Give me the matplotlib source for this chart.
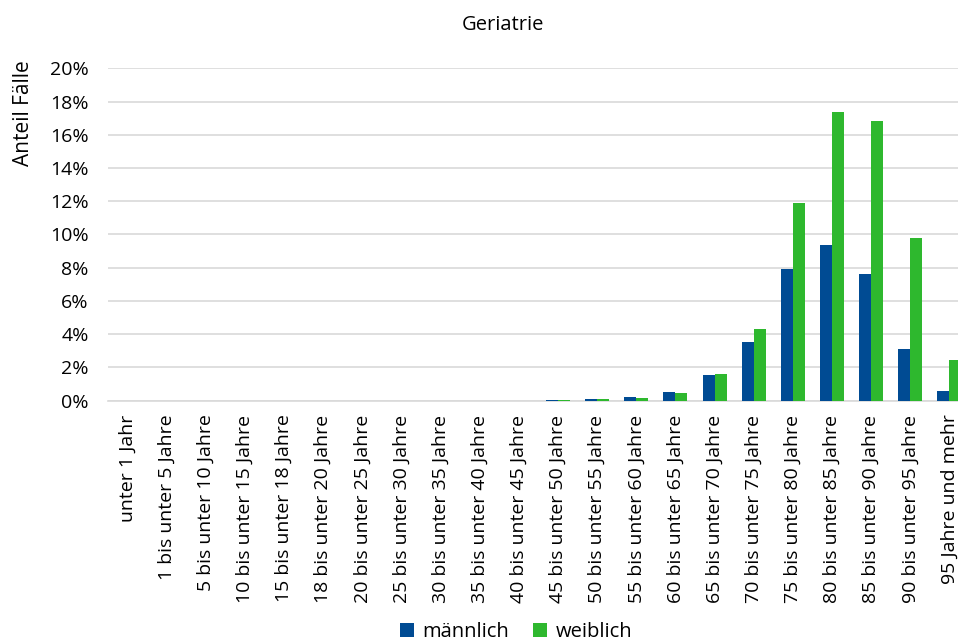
import numpy as np
import matplotlib
matplotlib.use("Agg")
import matplotlib.pyplot as plt
from matplotlib.ticker import FuncFormatter

plt.rcParams['font.family'] = ['Open Sans', 'DejaVu Sans']

categories = [
    "unter 1 Jahr", "1 bis unter 5 Jahre", "5 bis unter 10 Jahre",
    "10 bis unter 15 Jahre", "15 bis unter 18 Jahre", "18 bis unter 20 Jahre",
    "20 bis unter 25 Jahre", "25 bis unter 30 Jahre", "30 bis unter 35 Jahre",
    "35 bis unter 40 Jahre", "40 bis unter 45 Jahre", "45 bis unter 50 Jahre",
    "50 bis unter 55 Jahre", "55 bis unter 60 Jahre", "60 bis unter 65 Jahre",
    "65 bis unter 70 Jahre", "70 bis unter 75 Jahre", "75 bis unter 80 Jahre",
    "80 bis unter 85 Jahre", "85 bis unter 90 Jahre", "90 bis unter 95 Jahre",
    "95 Jahre und mehr",
]
maennlich = [0, 0, 0, 0, 0, 0, 0, 0, 0, 0, 0.0, 0.05, 0.10, 0.20, 0.50,
             1.55, 3.51, 7.92, 9.37, 7.62, 3.13, 0.57]
weiblich = [0, 0, 0, 0, 0, 0, 0, 0, 0, 0, 0.0, 0.04, 0.08, 0.14, 0.46,
            1.62, 4.30, 11.90, 17.39, 16.83, 9.81, 2.43]

blue = "#004b93"
green = "#2eb82e"

fig = plt.figure(figsize=(9.58, 6.41), dpi=100)
W, H = 958, 641
left, right = 108, 969
bottom, top = 400.7, 68.3
ax = fig.add_axes([left / W, 1 - bottom / H, (right - left) / W, (bottom - top) / H])

x = np.arange(len(categories))
bw = 0.307
ax.bar(x - bw / 2, maennlich, width=bw, color=blue, label="männlich", zorder=3)
ax.bar(x + bw / 2, weiblich, width=bw, color=green, label="weiblich", zorder=3)

ax.set_xlim(-0.5, len(categories) - 0.5)
ax.set_ylim(0, 20)
ax.set_yticks(np.arange(0, 21, 2))
ax.yaxis.set_major_formatter(FuncFormatter(lambda v, p: f"{v:.0f}%"))
ax.grid(axis="y", color="#d9d9d9", linewidth=1.2, zorder=0)
ax.set_axisbelow(True)

for s in ["top", "right", "left"]:
    ax.spines[s].set_visible(False)
ax.spines["bottom"].set_color("#d9d9d9")
ax.spines["bottom"].set_linewidth(1.2)

ax.set_xticks(x)
ax.set_xticklabels(categories, rotation=90, ha="center", va="top", fontsize=14, color="#000000")
ax.tick_params(axis="x", length=0, pad=10)
ax.tick_params(axis="y", length=0, pad=14, labelsize=14, labelcolor="#000000")

fig.text(503 / W, 1 - 25 / H, "Geriatrie", ha="center", va="center", fontsize=14.5)
fig.text(24 / W, 1 - 113 / H, "Anteil Fälle", rotation=90, ha="center", va="center", fontsize=15)

fig.legend(loc="center", bbox_to_anchor=(516 / W, 1 - 632 / H), ncol=2, frameon=False,
           fontsize=14.5, handlelength=0.7, handleheight=0.7, handletextpad=0.4,
           columnspacing=1.2, borderaxespad=0)

fig.savefig("out.png", dpi=100)
